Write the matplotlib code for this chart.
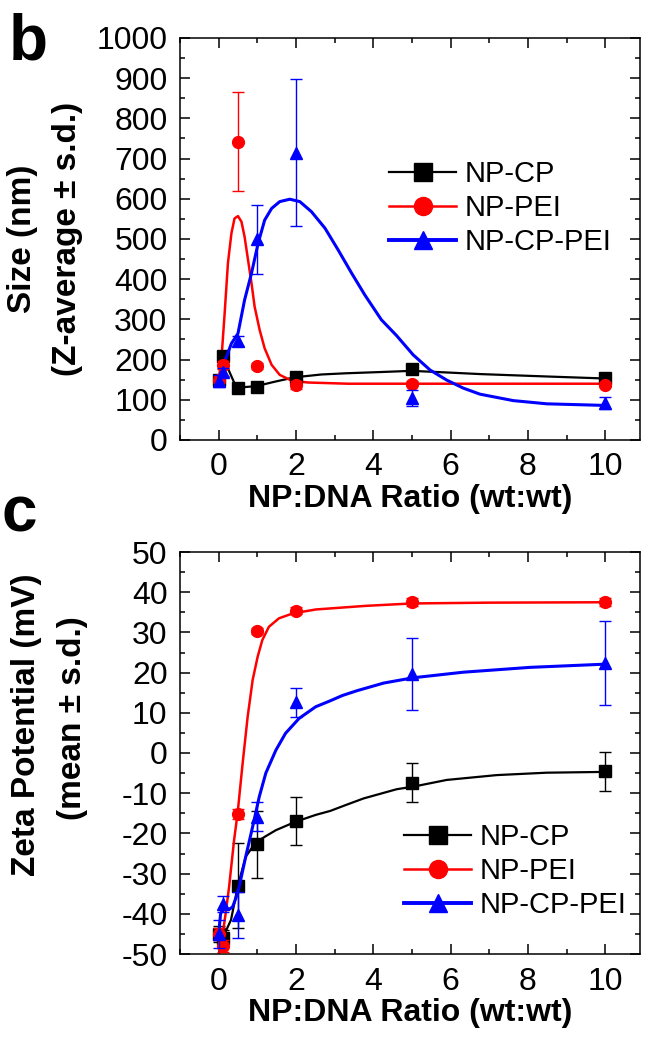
import matplotlib
matplotlib.use("Agg")
import matplotlib.pyplot as plt
from matplotlib.lines import Line2D
from matplotlib.ticker import MultipleLocator

plt.rcParams["font.family"] = ["Liberation Sans", "DejaVu Sans"]
plt.rcParams["axes.unicode_minus"] = False

# ---- panel b: particle size (nm) ----
X_PTS = [0, 0.1, 0.5, 1, 2, 5, 10]
size_cp = [150, 210, 130, 133, 157, 176, 154]
size_cp_err = [8, 10, 6, 6, 8, 6, 6]
size_pei = [150, 186, 742, 184, 138, 140, 138]
size_pei_err = [8, 10, 123, 8, 10, 6, 6]
size_cppei = [147, 170, 247, 499, 715, 104, 92]
size_cppei_err = [15, 10, 12, 86, 182, 20, 15]

# fitted curves
size_fit_cp_x = [0.07, 0.24, 0.41, 0.59, 0.85, 1.02, 1.45, 1.97, 2.66, 3.3, 4.17, 4.99, 5.9,
                 6.76, 7.62, 8.49, 10.0]
size_fit_cp_y = [211, 178, 141, 131, 133, 135, 145, 156, 163, 166, 169, 172, 168,
                 164, 161, 158, 153]
size_fit_pei_x = [0, 0.07, 0.155, 0.24, 0.33, 0.41, 0.5, 0.59, 0.67, 0.76, 0.85, 0.93, 1.06,
                  1.19, 1.37, 1.58, 1.88, 2.31, 3.35, 5.0, 7.0, 10.0]
size_fit_pei_y = [150, 199, 315, 440, 514, 551, 557, 543, 506, 448, 390, 332, 274,
                  228, 187, 162, 148, 143, 140, 140, 140, 140]
size_fit_cppei_x = [0, 0.155, 0.33, 0.5, 0.67, 0.85, 1.02, 1.19, 1.37, 1.58, 1.84, 2.1, 2.4,
                    2.75, 3.09, 3.44, 3.78, 4.21, 4.6, 5.03, 5.47, 5.9, 6.33, 6.76, 7.62,
                    8.49, 10.0]
size_fit_cppei_y = [150, 195, 240, 265, 348, 415, 489, 547, 576, 593, 599, 593, 568,
                    527, 473, 415, 361, 299, 260, 212, 174, 149, 129, 114, 98,
                    90, 86]

# ---- panel c: zeta potential (mV) ----
zeta_cp = [-45, -46, -33, -22.7, -17, -7.4, -4.6]
zeta_cp_err = [2, 2, 10.5, 8.3, 6, 4.8, 4.9]
zeta_pei = [-45, -48, -15.2, 30.4, 35.4, 37.5, 37.5]
zeta_pei_err = [1.5, 1.5, 1.2, 0.8, 0.8, 1, 1]
zeta_cppei = [-45, -37.6, -40.3, -15.8, 12.6, 19.6, 22.4]
zeta_cppei_err = [3.4, 2, 5.6, 3.6, 3.6, 9, 10.4]

zeta_fit_cp_x = [0.1, 0.2, 0.32, 0.49, 0.7, 0.88, 1.13, 1.48, 1.99, 2.51, 2.89, 3.3, 3.75,
                 4.61, 5.02, 5.9, 7.19, 8.48, 10.0]
zeta_fit_cp_y = [-46, -44, -41.5, -33.3, -25.8, -23.3, -21.2, -19.2, -17.1, -15.4, -14.4, -12.9, -11.3,
                 -9.0, -8.4, -6.7, -5.5, -4.9, -4.7]
zeta_fit_pei_x = [0, 0.1, 0.18, 0.27, 0.4, 0.49, 0.62, 0.75, 0.88, 1.01, 1.13, 1.3, 1.56,
                  1.91, 2.51, 3.8, 5.0, 7.0, 10.0]
zeta_fit_pei_y = [-46, -45.3, -40, -33.3, -21.6, -15.0, -2.6, 9.0, 18.2, 24.0, 28.1, 31.4, 33.5,
                  34.7, 35.7, 36.6, 37.2, 37.4, 37.5]
zeta_fit_cppei_x = [0, 0.05, 0.14, 0.27, 0.36, 0.45, 0.53, 0.7, 0.88, 1.05, 1.22, 1.48, 1.73,
                    2.08, 2.51, 2.89, 3.2, 3.58, 4.27, 5.02, 6.33, 8.05, 10.0]
zeta_fit_cppei_y = [-45, -40, -38.4, -38.9, -38.3, -36, -33.3, -25.8, -18.3, -10.9, -5.0, 0.7, 4.9,
                    8.6, 11.5, 13.0, 14.3, 15.5, 17.4, 18.7, 20.1, 21.3, 22.1]

LABELS = ["NP-CP", "NP-PEI", "NP-CP-PEI"]
COLORS = ["black", "#ff0000", "#0000ff"]
MARKERS = ["s", "o", "^"]
MSIZES = [8, 8.5, 9]
FIT_LW = [1.6, 1.8, 2.2]

W, H = 653, 1041
fig = plt.figure(figsize=(W / 100, H / 100), dpi=100)


def style_axes(ax, ymin, ymax, ymajor, yminor):
    ax.set_xlim(-1, 10.9)
    ax.set_ylim(ymin, ymax)
    ax.xaxis.set_major_locator(MultipleLocator(2))
    ax.xaxis.set_minor_locator(MultipleLocator(1))
    ax.yaxis.set_major_locator(MultipleLocator(ymajor))
    ax.yaxis.set_minor_locator(MultipleLocator(yminor))
    ax.tick_params(which="both", direction="in", top=True, right=True,
                   width=1.1, labelsize=23, pad=9)
    ax.tick_params(which="major", length=7.5)
    ax.tick_params(which="minor", length=3.5)
    for s in ax.spines.values():
        s.set_linewidth(1.1)
    ax.set_xlabel("NP:DNA Ratio (wt:wt)", fontsize=23, fontweight="bold", labelpad=1)


def draw(ax, ys, errs, fits):
    for i in range(3):
        fx, fy = fits[i]
        ax.plot(fx, fy, "-", color=COLORS[i], lw=FIT_LW[i], zorder=2 + i)
        ax.errorbar(X_PTS, ys[i], yerr=errs[i], fmt=MARKERS[i], color=COLORS[i],
                    ms=MSIZES[i], mec=COLORS[i], elinewidth=1.0, capsize=4,
                    capthick=1.0, zorder=3 + i)


def legend(ax, x_px, y_px):
    handles = [Line2D([], [], color=c, marker=m, ms=13, lw=lw, label=l)
               for c, m, lw, l in zip(COLORS, MARKERS, [1.6, 1.8, 2.8], LABELS)]
    ax.legend(handles=handles, loc="center left", frameon=False, fontsize=21,
              bbox_to_anchor=(x_px / W, 1 - y_px / H), bbox_transform=fig.transFigure,
              borderpad=0, borderaxespad=0, handlelength=2.3, handletextpad=0.3,
              labelspacing=0.2)


# panel b
ax1 = fig.add_axes([180 / W, 1 - 440 / H, 460 / W, 402 / H])
style_axes(ax1, 0, 1000, 100, 50)
draw(ax1, [size_cp, size_pei, size_cppei],
     [size_cp_err, size_pei_err, size_cppei_err],
     [(size_fit_cp_x, size_fit_cp_y), (size_fit_pei_x, size_fit_pei_y),
      (size_fit_cppei_x, size_fit_cppei_y)])
legend(ax1, 389, 208)

# panel c
ax2 = fig.add_axes([180 / W, 1 - 954 / H, 460 / W, 402 / H])
style_axes(ax2, -50, 50, 10, 5)
draw(ax2, [zeta_cp, zeta_pei, zeta_cppei],
     [zeta_cp_err, zeta_pei_err, zeta_cppei_err],
     [(zeta_fit_cp_x, zeta_fit_cp_y), (zeta_fit_pei_x, zeta_fit_pei_y),
      (zeta_fit_cppei_x, zeta_fit_cppei_y)])
legend(ax2, 404, 871)


# y labels (two lines each) and panel letters
def ftext(x_px, y_px, s, **kw):
    fig.text(x_px / W, 1 - y_px / H, s, **kw)


ftext(23, 239, "Size (nm)", rotation=90, ha="center", va="center", fontsize=24, fontweight="bold")
ftext(68, 239, "(Z-average \u00b1 s.d.)", rotation=90, ha="center", va="center", fontsize=24, fontweight="bold")
ftext(27, 725, "Zeta Potential (mV)", rotation=90, ha="center", va="center", fontsize=24, fontweight="bold")
ftext(73, 718, "(mean \u00b1 s.d.)", rotation=90, ha="center", va="center", fontsize=24, fontweight="bold")
ftext(9, 60, "b", ha="left", va="baseline", fontsize=46, fontweight="bold")
ftext(2, 531, "c", ha="left", va="baseline", fontsize=46, fontweight="bold")

fig.savefig("out.png", dpi=100)
